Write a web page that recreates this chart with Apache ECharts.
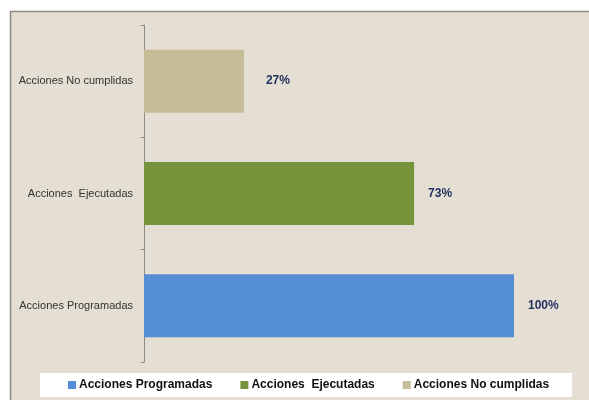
<!DOCTYPE html>
<html>
<head>
<meta charset="utf-8">
<script src="https://cdn.jsdelivr.net/npm/echarts@6/dist/echarts.min.js"></script>
<style>
html,body{margin:0;padding:0;background:#fff;}
#c{width:589px;height:400px;}
</style>
</head>
<body>
<div id="c"></div>
<script>
var categories = ['Acciones Programadas', 'Acciones  Ejecutadas', 'Acciones No cumplidas'];
var seriesNames = ['Acciones Programadas', 'Acciones  Ejecutadas', 'Acciones No cumplidas'];
var values = [100, 73, 27];
var colors = ['#558ed5', '#77933c', '#c4bd97'];
var labelDistances = [14, 14, 22];

var chart = echarts.init(document.getElementById('c'), null, {renderer: 'canvas'});

var series = seriesNames.map(function (name, i) {
  return {
    name: name,
    type: 'bar',
    stack: 'total',
    barWidth: 63,
    itemStyle: {color: colors[i]},
    label: {
      show: true,
      position: 'right',
      distance: labelDistances[i],
      formatter: '{c}%',
      color: '#1f2f5f',
      fontFamily: 'Liberation Sans, Arial, sans-serif',
      fontWeight: 'bold',
      fontSize: 12
    },
    data: categories.map(function (c, j) { return j === i ? values[j] : '-'; })
  };
});

chart.setOption({
  backgroundColor: '#ffffff',
  animation: false,
  graphic: [{
    type: 'rect',
    z: -10,
    silent: true,
    shape: {x: 10.5, y: 11.5, width: 590, height: 400},
    style: {fill: '#e5ded2', stroke: '#8d8a86', lineWidth: 1.5}
  }],
  grid: {left: 144, right: 75, top: 25, bottom: 38, containLabel: false},
  legend: {
    left: 40,
    top: 373,
    backgroundColor: '#ffffff',
    padding: [6, 23, 6, 28],
    itemGap: 28,
    itemWidth: 8,
    itemHeight: 8,
    icon: 'rect',
    textStyle: {
      fontFamily: 'Liberation Sans, Arial, sans-serif',
      fontWeight: 'bold',
      fontSize: 12,
      color: '#111',
      padding: [0, 0, 0, -2]
    },
    data: seriesNames
  },
  xAxis: {
    type: 'value',
    min: 0,
    max: 100,
    show: false
  },
  yAxis: {
    type: 'category',
    data: categories,
    axisLine: {show: true, lineStyle: {color: '#8a8a8a', width: 1}},
    axisTick: {show: true, length: 3, lineStyle: {color: '#8a8a8a'}},
    axisLabel: {
      margin: 11,
      color: '#333333',
      fontFamily: 'Liberation Sans, Arial, sans-serif',
      fontSize: 11
    },
    splitLine: {show: false}
  },
  series: series
});
</script>
</body>
</html>
